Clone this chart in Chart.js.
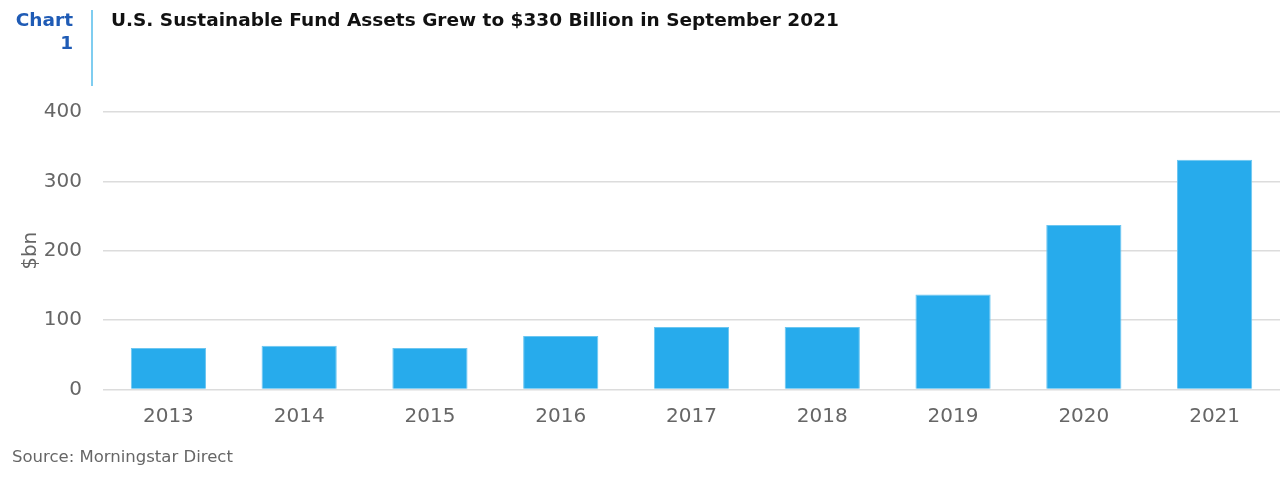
<!DOCTYPE html>
<html>
<head>
<meta charset="utf-8">
<script src="https://cdn.jsdelivr.net/npm/chart.js@4/dist/chart.umd.min.js"></script>
<style>
  html, body { margin: 0; padding: 0; background: #fff; }
  body { width: 1280px; height: 477px; position: relative; overflow: hidden; font-family: "DejaVu Sans", sans-serif; }
  #wrap { position: absolute; left: 0; top: 0; width: 1280px; height: 477px; }
  #label { position: absolute; left: 0; width: 73px; top: 8px; text-align: right; color: #1F5BB5; font-weight: bold; font-size: 18.5px; line-height: 23px; }
  #vline { position: absolute; left: 91px; top: 10px; width: 2px; height: 76px; background: #7FCDF0; }
  #title { position: absolute; left: 111px; top: 8px; color: #111; font-weight: bold; font-size: 18.5px; line-height: 23px; white-space: nowrap; }
  #source { position: absolute; left: 12px; top: 447px; color: #666; font-size: 16.5px; line-height: 20px; }
</style>
</head>
<body>
<div id="wrap"><canvas id="c" width="1280" height="477"></canvas></div>
<div id="label">Chart<br>1</div>
<div id="vline"></div>
<div id="title">U.S. Sustainable Fund Assets Grew to $330 Billion in September 2021</div>
<div id="source">Source: Morningstar Direct</div>
<script>
const categories = ["2013", "2014", "2015", "2016", "2017", "2018", "2019", "2020", "2021"];
const assetsBn = [60, 63, 60, 77, 90, 90, 137, 237, 331];
const yTicks = [0, 100, 200, 300, 400];
const yTitle = "$bn";

const canvas = document.getElementById('c');
new Chart(canvas, {
  type: 'bar',
  data: {
    labels: categories,
    datasets: [{
      data: assetsBn,
      backgroundColor: '#27ABEC',
      borderColor: '#6CC6F1',
      borderWidth: 1,
      categoryPercentage: 1.0,
      barPercentage: 0.575
    }]
  },
  options: {
    responsive: false,
    animation: false,
    devicePixelRatio: 1,
    layout: { padding: { top: 112, right: 0, bottom: 33.5, left: 0 } },
    plugins: { legend: { display: false }, tooltip: { enabled: false }, title: { display: false } },
    scales: {
      x: {
        grid: { display: false, drawTicks: false },
        border: { display: false },
        ticks: { color: '#666', font: { family: 'DejaVu Sans', size: 20 }, padding: 15 }
      },
      y: {
        min: 0, max: 400,
        afterBuildTicks: (s) => { s.ticks = yTicks.map(v => ({ value: v })); },
        afterFit: (s) => { s.width = 103; },
        grid: { color: '#DCDCDC', lineWidth: 1.5, drawTicks: false },
        border: { display: false },
        ticks: { color: '#666', font: { family: 'DejaVu Sans', size: 20 }, padding: 21 },
        title: { display: true, text: yTitle, color: '#666', font: { family: 'DejaVu Sans', size: 20 }, padding: { top: 19, bottom: 0 } }
      }
    }
  }
});
</script>
</body>
</html>
